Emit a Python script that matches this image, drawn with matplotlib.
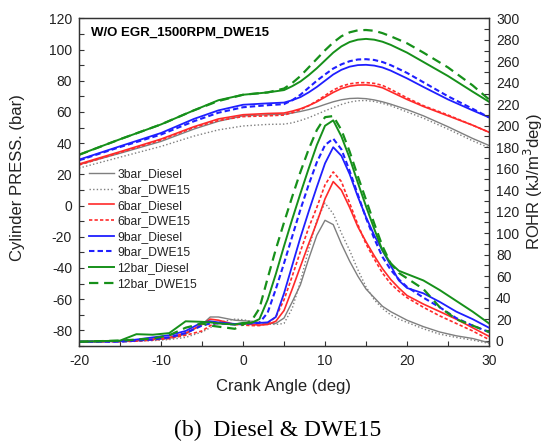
import numpy as np
import matplotlib
matplotlib.use('Agg')
import matplotlib.pyplot as plt
from matplotlib.ticker import MultipleLocator

plt.rcParams['font.family'] = ['Liberation Sans', 'DejaVu Sans']
plt.rcParams['axes.unicode_minus'] = False

# crank angle grid for the cylinder pressure curves (deg)
ca_p = [-20, -15, -10, -6, -3, 0, 3, 5, 6, 7, 8, 9, 10, 11, 12, 13, 14, 15, 16, 17, 18, 20, 22, 25, 28, 30]

# cylinder pressure (bar)
p_3_diesel = [26.2, 33.5, 41.1, 49.0, 54.0, 57.5, 58.2, 58.5, 59.3, 60.3, 61.5, 63.0, 64.8, 66.5, 67.8, 68.6,
              68.8, 68.5, 67.7, 66.5, 65.0, 61.5, 57.5, 50.5, 43.0, 38.5]
p_3_dwe15 = [24.0, 31.0, 37.9, 44.5, 48.5, 51.0, 52.0, 52.2, 53.0, 54.5, 56.3, 58.5, 60.7, 62.8, 64.8, 66.3,
             67.2, 67.3, 66.7, 65.5, 64.0, 60.0, 56.0, 49.0, 41.5, 37.0]
p_6_diesel = [26.6, 34.5, 42.6, 50.5, 55.5, 58.2, 59.0, 59.3, 60.5, 62.0, 64.0, 66.5, 69.5, 72.5, 75.0, 76.5,
              77.2, 77.3, 76.8, 75.5, 73.0, 68.0, 63.5, 57.5, 51.5, 47.0]
p_6_dwe15 = [26.0, 34.0, 42.0, 50.0, 54.5, 57.0, 57.5, 58.0, 59.5, 61.5, 64.0, 67.0, 70.5, 74.0, 76.5, 78.0,
             78.7, 78.8, 78.3, 77.0, 74.5, 69.0, 64.0, 58.0, 51.5, 47.0]
p_9_diesel = [29.4, 38.0, 46.5, 55.5, 61.0, 64.6, 65.5, 66.0, 67.5, 69.5, 72.5, 76.0, 80.0, 84.0, 87.0, 89.0,
              90.0, 90.2, 89.7, 88.5, 86.5, 81.5, 76.0, 68.0, 61.0, 56.5]
p_9_dwe15 = [29.0, 37.5, 45.5, 54.0, 59.5, 63.0, 64.3, 65.0, 67.5, 71.0, 75.5, 80.0, 84.0, 87.8, 90.5, 92.5,
             93.6, 93.8, 93.3, 92.0, 90.0, 85.0, 79.0, 70.0, 62.0, 56.5]
p_12_diesel = [32.6, 42.5, 52.0, 61.0, 67.5, 71.0, 72.5, 74.0, 76.5, 79.5, 83.5, 88.0, 93.0, 98.0, 102.0, 104.8,
               106.3, 106.8, 106.3, 105.0, 103.0, 98.0, 92.0, 83.0, 73.0, 66.5]
p_12_dwe15 = [32.5, 42.5, 52.0, 61.0, 67.0, 71.0, 72.5, 75.0, 78.5, 83.0, 88.5, 94.0, 99.5, 104.5, 108.5, 111.0,
              112.3, 112.5, 112.0, 110.5, 108.5, 104.0, 98.0, 88.5, 77.0, 68.0]

# crank angle grid for the rate of heat release curves (deg)
ca_r = [-20, -15, -13, -11, -9, -7, -5, -4, -3, -1, 0, 1, 2, 3, 4, 5, 6, 7, 8, 9,
        10, 11, 12, 13, 14, 15, 16, 17, 18, 19, 20, 22, 24, 26, 28, 30]

# ROHR (kJ/m3deg)
r_3_diesel = [-1, -0.5, 0, 1, 2, 6, 15, 22, 22, 19, 18.5, 18, 17, 16, 16, 21, 36, 52, 76, 98,
              112, 108, 90, 74, 60, 48, 40, 32, 27, 23, 19, 13, 8, 4.5, 2, -2]
r_3_dwe15 = [-1, -1, -0.5, 0, 1, 3, 8, 12, 17, 20, 19.5, 18, 17, 15.5, 15, 16, 30, 55, 85, 112,
             128, 118, 100, 84, 66, 50, 38, 30, 24, 20, 17, 11, 6, 3, 0.5, -2.5]
r_6_diesel = [-1, -0.5, 0, 1.5, 3, 7, 15, 20, 19, 15, 16, 15, 14.5, 15, 18, 28, 48, 69, 90, 110,
              132, 148, 140, 124, 106, 92, 79, 67, 57, 49, 42, 34, 27, 20, 12, 4]
r_6_dwe15 = [-1, -1, -0.5, 0.5, 2, 5, 9, 14, 17, 15, 14.5, 14, 14, 16, 22, 38, 60, 83, 105, 124,
             145, 157, 148, 128, 108, 90, 76, 63, 53, 46, 40, 31, 23, 16, 9, 1]
r_9_diesel = [-1, -0.5, 1, 3, 5, 9, 17, 18, 17, 15.5, 16, 16.5, 16.5, 17, 22, 44, 70, 96, 120, 143,
              165, 180, 172, 155, 134, 115, 98, 84, 70, 56, 49, 44, 36, 27, 20, 12]
r_9_dwe15 = [-1, -1, 0, 1, 3, 7, 14, 16, 16, 15, 15.5, 16, 16.5, 26, 48, 72, 97, 122, 145, 166,
             182, 188, 178, 158, 136, 114, 95, 78, 66, 57, 50, 40, 31, 21, 14, 8]
r_12_diesel = [-1, 0, 6, 5.5, 7, 18, 17.5, 17, 16, 15, 16.5, 16.5, 20, 38, 62, 88, 113, 137, 160, 182,
               200, 205, 190, 170, 147, 125, 104, 84, 72, 65, 62, 56, 47, 37, 27, 16]
r_12_dwe15 = [-1, 0, 1, 2, 5, 12, 16, 14, 13, 11, 15, 18, 30, 58, 85, 110, 134, 157, 178, 196,
              208, 209, 196, 176, 153, 131, 109, 88, 72, 63, 58, 48, 31, 20, 14, 8]

labels = ['3bar_Diesel', '3bar_DWE15', '6bar_Diesel', '6bar_DWE15',
          '9bar_Diesel', '9bar_DWE15', '12bar_Diesel', '12bar_DWE15']

pressures = [p_3_diesel, p_3_dwe15, p_6_diesel, p_6_dwe15,
             p_9_diesel, p_9_dwe15, p_12_diesel, p_12_dwe15]
rohrs = [r_3_diesel, r_3_dwe15, r_6_diesel, r_6_dwe15,
         r_9_diesel, r_9_dwe15, r_12_diesel, r_12_dwe15]

gray = '#7f7f7f'
red = '#ff2a2a'
blue = '#1f1fff'
green = '#16901a'
styles = [dict(color=gray, lw=1.0, ls='-'),
          dict(color=gray, lw=1.0, ls=(0, (1, 1.6))),
          dict(color=red, lw=1.2, ls='-'),
          dict(color=red, lw=1.2, ls=(0, (2, 1.3))),
          dict(color=blue, lw=1.3, ls='-'),
          dict(color=blue, lw=1.5, ls=(0, (2.6, 1.5))),
          dict(color=green, lw=1.4, ls='-'),
          dict(color=green, lw=1.6, ls=(0, (4.2, 2.6)))]

fig = plt.figure(figsize=(5.45, 4.42), dpi=100)
ax = fig.add_axes([0.145, 0.2172, 0.7523, 0.7414])
ax2 = ax.twinx()

handles = []
for p, r, lab, st in zip(pressures, rohrs, labels, styles):
    h, = ax.plot(ca_p, p, label=lab, **st)
    ax2.plot(ca_r, r, **st)
    handles.append(h)

ax.set_xlim(-20, 30)
ax.set_ylim(-90, 120)
ax2.set_ylim(-5, 300)
ax.xaxis.set_major_locator(MultipleLocator(10))
ax.xaxis.set_minor_locator(MultipleLocator(5))
ax.yaxis.set_major_locator(MultipleLocator(20))
ax.yaxis.set_minor_locator(MultipleLocator(10))
ax2.yaxis.set_major_locator(MultipleLocator(20))
ax2.yaxis.set_minor_locator(MultipleLocator(10))

tc = '#222222'
for a in (ax, ax2):
    a.tick_params(which='both', direction='in', length=3.5, width=0.8,
                  labelsize=10, colors='#333333', labelcolor=tc)
    for s in a.spines.values():
        s.set_linewidth(0.9)
        s.set_color('#333333')
ax.tick_params(axis='x', pad=6)
ax.tick_params(axis='y', pad=5)
ax2.tick_params(axis='y', pad=5)

fig.text(18 / 545, 1 - 178 / 442, 'Cylinder PRESS. (bar)', rotation=90,
         ha='center', va='center', fontsize=12, color=tc)
fig.text(533 / 545, 1 - 182 / 442, 'ROHR (kJ/m$^3$deg)', rotation=90,
         ha='center', va='center', fontsize=12, color=tc)
fig.text(284 / 545, 1 - 387 / 442, 'Crank Angle (deg)',
         ha='center', va='center', fontsize=12, color=tc)
fig.text(278 / 545, 1 - 430 / 442, '(b)  Diesel & DWE15',
         ha='center', va='center', fontsize=17, color='black',
         family=['Liberation Serif', 'DejaVu Serif'])

ax.text(0.03, 0.955, 'W/O EGR_1500RPM_DWE15', transform=ax.transAxes,
        ha='left', va='center', fontsize=9.5, fontweight='bold', color='black')

ax.legend(handles=handles, loc='upper left', bbox_to_anchor=(0.024, 0.542),
          frameon=False, fontsize=8.7, handlelength=2.1, handletextpad=0.25,
          labelspacing=0.3, borderpad=0, borderaxespad=0, labelcolor=tc)

fig.savefig('out.png', dpi=100)
